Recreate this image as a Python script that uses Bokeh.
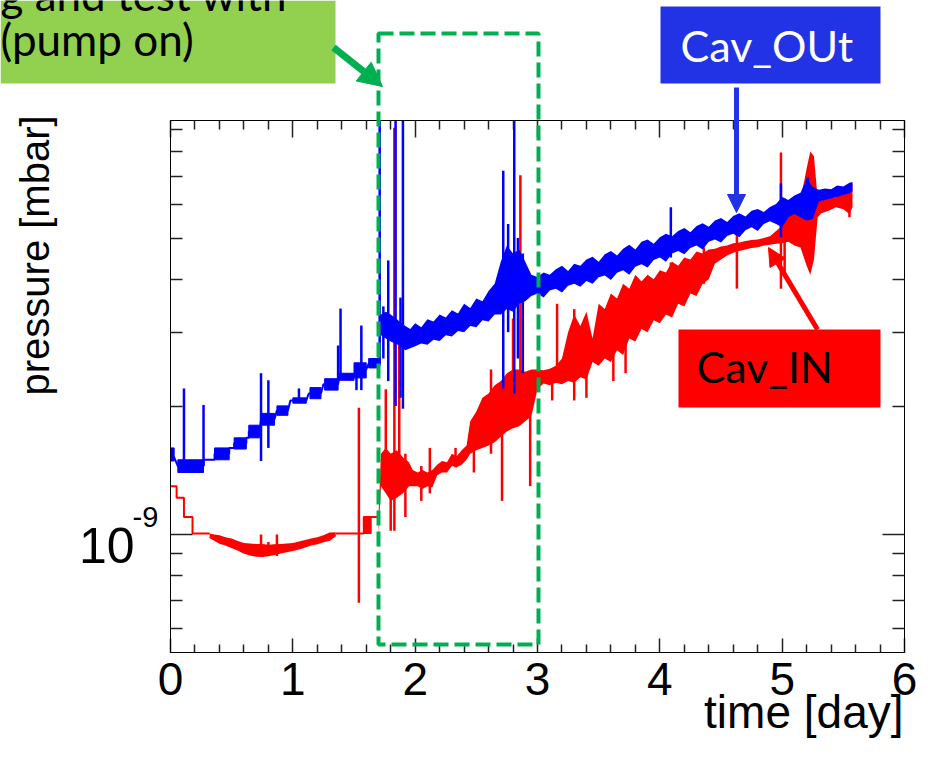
import math
from bokeh.plotting import figure
from bokeh.models import (Range1d, LogAxis, LinearAxis, FixedTicker, BoxAnnotation,
                          Label, Arrow, NormalHead, CustomJSTickFormatter)
from bokeh.embed import file_html
from bokeh.resources import INLINE

# ---------------- data (pressure in units of 1e-9 mbar, time in days) ----------------
UNIT = 1e-9

x_major = [0, 1, 2, 3, 4, 5, 6]
x_minor = [0.2, 0.4, 0.6, 0.8, 1.2, 1.4, 1.6, 1.8, 2.2, 2.4, 2.6, 2.8, 3.2, 3.4, 3.6, 3.8,
           4.2, 4.4, 4.6, 4.8, 5.2, 5.4, 5.6, 5.8]
y_major = [1.0]
y_minor = [0.6, 0.7, 0.8, 0.9, 2, 3, 4, 5, 6, 7, 8, 9]

# Cav_OUt (blue): stepped blocks before the intervention
out_blk_t0 = [0.00, 0.06, 0.36, 0.52, 0.64, 0.74, 0.87, 1.00, 1.14, 1.26, 1.38, 1.50, 1.62]
out_blk_t1 = [0.03, 0.27, 0.48, 0.62, 0.73, 0.85, 0.96, 1.11, 1.23, 1.37, 1.50, 1.60, 1.70]
out_blk_lo = [1.49, 1.40, 1.50, 1.59, 1.69, 1.81, 1.91, 2.04, 2.09, 2.19, 2.31, 2.34, 2.47]
out_blk_hi = [1.60, 1.50, 1.60, 1.69, 1.81, 1.93, 2.01, 2.10, 2.22, 2.33, 2.40, 2.54, 2.60]
out_line_t = [0.00, 0.03, 0.06, 0.27, 0.27, 0.36, 0.36, 0.48, 0.48, 0.52, 0.52, 0.62, 0.62, 0.64,
              0.64, 0.73, 0.74, 0.85, 0.87, 0.96, 0.98, 1.11, 1.13, 1.23, 1.25, 1.37, 1.38, 1.50,
              1.52, 1.60, 1.62, 1.70]
out_line_v = [1.55, 1.52, 1.45, 1.45, 1.50, 1.50, 1.55, 1.55, 1.60, 1.60, 1.64, 1.64, 1.69, 1.69,
              1.75, 1.75, 1.87, 1.87, 1.96, 1.96, 2.07, 2.07, 2.15, 2.15, 2.26, 2.26, 2.35, 2.35,
              2.45, 2.45, 2.53, 2.53]
# Cav_OUt noisy band after the intervention
out_band_t = [1.72, 1.76, 1.80, 1.86, 1.92, 1.96, 2.00, 2.05, 2.10, 2.15, 2.20, 2.25, 2.30, 2.35,
              2.40, 2.45, 2.50, 2.55, 2.60, 2.65, 2.70, 2.75, 2.80, 2.85, 2.90, 2.95,
              3.00, 3.05, 3.10, 3.15, 3.20, 3.25, 3.30, 3.35, 3.40, 3.45, 3.50, 3.55, 3.60, 3.65,
              3.70, 3.75, 3.80, 3.85, 3.90, 3.95, 4.00, 4.05, 4.10, 4.15, 4.20, 4.25, 4.30, 4.35,
              4.40, 4.45, 4.50, 4.55, 4.60, 4.65, 4.70, 4.75, 4.80, 4.85, 4.90, 4.95, 5.00, 5.05,
              5.10, 5.15, 5.20, 5.25, 5.30, 5.35, 5.40, 5.45, 5.50, 5.55, 5.575]
out_band_lo = [2.95, 2.90, 2.85, 2.80, 2.72, 2.75, 2.78, 2.82, 2.80, 2.88, 2.86, 2.95, 2.93, 3.02,
               3.00, 3.10, 3.08, 3.20, 3.18, 3.30, 3.30, 3.40, 3.35, 3.50, 3.55, 3.65,
               3.70, 3.62, 3.76, 3.80, 3.72, 3.86, 3.90, 3.84, 3.96, 3.90, 4.04, 4.08, 3.98, 4.14,
               4.20, 4.10, 4.28, 4.34, 4.26, 4.44, 4.50, 4.40, 4.60, 4.66, 4.58, 4.74, 4.80, 4.70,
               4.90, 4.96, 4.88, 5.06, 5.12, 5.02, 5.22, 5.30, 5.20, 5.40, 5.48, 5.40, 5.30, 5.60,
               5.70, 5.60, 5.50, 5.55, 6.10, 6.15, 6.20, 6.25, 6.32, 6.38, 6.45]
out_band_hi = [3.30, 3.35, 3.30, 3.20, 3.10, 3.05, 3.15, 3.08, 3.22, 3.18, 3.30, 3.25, 3.38, 3.32,
               3.50, 3.42, 3.60, 3.55, 3.75, 3.90, 4.40, 4.80, 4.60, 4.70, 4.40, 4.10,
               4.05, 4.15, 4.10, 4.22, 4.30, 4.18, 4.35, 4.30, 4.45, 4.52, 4.40, 4.58, 4.66, 4.55,
               4.72, 4.82, 4.70, 4.90, 4.96, 4.85, 5.02, 5.12, 5.05, 5.20, 5.28, 5.16, 5.34, 5.42,
               5.32, 5.50, 5.58, 5.46, 5.64, 5.72, 5.62, 5.80, 5.86, 5.76, 5.92, 6.02, 6.25, 6.15,
               6.30, 6.40, 6.90, 6.60, 6.50, 6.55, 6.52, 6.65, 6.62, 6.75, 6.78]
# Cav_OUt spikes
out_spk_t = [0.11, 0.27, 0.74, 0.80, 1.05, 1.37, 1.39, 1.52, 1.56, 1.71, 1.74, 1.78, 1.84, 1.88,
             1.90, 2.72, 2.76, 2.81, 2.84, 2.88, 4.09, 4.99, 5.21]
out_spk_lo = [1.42, 1.45, 1.49, 1.60, 2.04, 2.33, 2.33, 2.19, 2.19, 2.50, 2.60, 2.30, 2.01, 2.10,
              1.98, 2.21, 3.00, 2.15, 2.60, 2.40, 4.50, 5.02, 5.56]
out_spk_hi = [2.21, 2.02, 2.40, 2.31, 2.21, 2.79, 3.41, 2.54, 3.11, 12.0, 3.45, 4.43, 12.0, 3.62,
              12.0, 7.21, 5.40, 12.0, 5.00, 4.60, 5.91, 6.73, 6.95]

# Cav_IN (red)
in_line_t = [0.00, 0.05, 0.05, 0.11, 0.11, 0.18, 0.18, 0.32]
in_line_v = [1.30, 1.30, 1.22, 1.22, 1.10, 1.10, 1.005, 1.005]
in_band1_t = [0.32, 0.36, 0.40, 0.45, 0.50, 0.55, 0.60, 0.65, 0.70, 0.75, 0.80, 0.85, 0.90, 0.95,
              1.00, 1.05, 1.10, 1.15, 1.20, 1.25, 1.30, 1.35]
in_band1_lo = [0.985, 0.970, 0.955, 0.945, 0.932, 0.920, 0.905, 0.895, 0.890, 0.888, 0.892, 0.898,
               0.905, 0.912, 0.918, 0.925, 0.935, 0.945, 0.952, 0.962, 0.970, 0.995]
in_band1_hi = [1.005, 1.000, 0.995, 0.985, 0.978, 0.965, 0.955, 0.952, 0.950, 0.950, 0.945, 0.948,
               0.950, 0.952, 0.955, 0.962, 0.970, 0.978, 0.985, 0.995, 1.010, 1.012]
in_line2_t = [1.35, 1.58, 1.58, 1.70]
in_line2_v = [1.005, 1.005, 1.10, 1.10]
in_blk_t0 = [1.58]
in_blk_t1 = [1.64]
in_blk_lo = [1.005]
in_blk_hi = [1.10]
in_band2_t = [1.70, 1.72, 1.76, 1.80, 1.85, 1.90, 1.95, 1.98, 2.02, 2.06, 2.10, 2.14, 2.18, 2.22,
              2.26, 2.30, 2.34, 2.38, 2.42, 2.45, 2.50, 2.55, 2.60, 2.65, 2.70, 2.75, 2.80, 2.85,
              2.90, 2.95, 3.00, 3.05, 3.10, 3.15, 3.20, 3.25, 3.30, 3.35, 3.40, 3.45, 3.50, 3.55,
              3.60, 3.65, 3.70, 3.75, 3.80, 3.85, 3.90, 3.95, 4.00, 4.05, 4.10, 4.15, 4.20, 4.25,
              4.30, 4.35, 4.40, 4.45, 4.50, 4.55, 4.60, 4.65, 4.70, 4.75, 4.80, 4.85, 4.90, 4.95,
              5.00, 5.05, 5.10, 5.15, 5.20, 5.23, 5.26, 5.29, 5.32, 5.38, 5.44, 5.50, 5.55, 5.575]
in_band2_lo = [1.00, 1.30, 1.25, 1.20, 1.22, 1.25, 1.30, 1.30, 1.30, 1.28, 1.30, 1.29, 1.38, 1.40,
               1.40, 1.45, 1.44, 1.46, 1.50, 1.55, 1.58, 1.60, 1.62, 1.65, 1.70, 1.75, 1.78, 1.80,
               1.85, 1.90, 2.20, 2.27, 2.25, 2.28, 2.26, 2.30, 2.28, 2.35, 2.32, 2.55, 2.50, 2.60,
               2.55, 2.72, 2.65, 2.90, 2.85, 3.05, 3.00, 3.20, 3.15, 3.30, 3.25, 3.50, 3.45, 3.70,
               3.65, 3.90, 4.00, 4.35, 4.45, 4.55, 4.62, 4.66, 4.70, 4.74, 4.76, 4.80, 4.82, 4.85,
               4.86, 4.90, 4.80, 4.75, 4.30, 4.10, 4.45, 5.60, 5.72, 5.80, 5.91, 5.85, 5.70, 5.91]
in_band2_hi = [1.10, 1.55, 1.60, 1.55, 1.58, 1.52, 1.48, 1.42, 1.40, 1.42, 1.40, 1.42, 1.46, 1.49,
               1.48, 1.55, 1.53, 1.58, 1.62, 1.85, 1.95, 2.10, 2.15, 2.25, 2.30, 2.40, 2.45, 2.45,
               2.42, 2.45, 2.45, 2.44, 2.46, 2.50, 2.60, 3.00, 3.30, 3.10, 3.35, 2.90, 3.50, 3.40,
               3.70, 3.60, 3.90, 3.80, 4.10, 3.95, 4.10, 4.00, 4.20, 4.15, 4.40, 4.30, 4.50, 4.45,
               4.65, 4.60, 4.70, 4.72, 4.78, 4.80, 4.86, 4.88, 4.92, 4.95, 4.96, 5.00, 5.05, 5.20,
               5.35, 5.70, 5.90, 6.15, 7.30, 8.00, 7.80, 6.20, 6.13, 6.20, 6.24, 6.40, 6.55, 6.73]
in_spk_t = [0.74, 0.80, 0.87, 1.54, 1.76, 1.80, 1.83, 1.87, 1.92, 2.05, 2.12, 2.33, 2.48, 2.62,
            2.71, 2.80, 2.86, 2.94, 3.12, 3.16, 3.30, 3.40, 3.62, 3.72, 4.09, 4.36, 4.63, 4.99,
            5.02, 5.55]
in_spk_lo = [0.89, 0.90, 0.89, 0.69, 1.30, 1.02, 1.02, 1.25, 1.10, 1.20, 1.25, 1.44, 1.40, 1.55,
             1.20, 1.80, 2.00, 1.30, 2.07, 2.28, 2.07, 2.10, 2.30, 2.40, 3.30, 3.90, 3.80, 3.80,
             4.10, 5.60]
in_spk_hi = [1.00, 0.96, 1.00, 1.99, 2.20, 1.55, 9.10, 2.90, 1.55, 1.45, 1.60, 1.60, 1.60, 2.45,
             1.75, 3.23, 7.03, 1.90, 2.45, 3.50, 3.40, 3.00, 3.20, 3.60, 4.38, 4.76, 5.16, 7.96,
             6.20, 6.20]

# ---------------- layout ----------------
W, H = 928, 768
FL, FR, FT, FB = 170, 904, 120, 652
X0, X1 = 0.0, 6.0
Y_LO, Y_HI = 5.267e-10, 9.47e-9
BLUE, RED, GREEN, LGREEN, BOXBLUE = "#0000ff", "#ff0000", "#00b050", "#92d050", "#2233e6"
TEXT_SHIFT = 17  # renderer draws label baselines this many px below the anchor


def sc(arr):
    return [v * UNIT for v in arr]


p = figure(width=W, height=H, x_range=Range1d(X0, X1), y_range=Range1d(Y_LO, Y_HI),
           y_axis_type="log", output_backend="svg", toolbar_location=None,
           min_border_left=FL, min_border_right=W - FR, min_border_top=FT,
           min_border_bottom=H - FB)
p.grid.visible = False
p.outline_line_color = "black"
p.background_fill_color = "white"
p.border_fill_color = "white"

xt = FixedTicker(ticks=x_major, minor_ticks=x_minor)
yt = FixedTicker(ticks=[v * UNIT for v in y_major], minor_ticks=[v * UNIT for v in y_minor])
blank = CustomJSTickFormatter(code="return ''")

xa = p.xaxis[0]
xa.ticker = xt
xa.major_label_text_font = "Liberation Sans"
xa.major_label_text_font_size = "46px"
xa.major_label_text_color = "black"
xa.major_label_standoff = 10
xa.major_tick_in, xa.major_tick_out = 14, 0
xa.minor_tick_in, xa.minor_tick_out = 8, 0

ya = p.yaxis[0]
ya.ticker = yt
ya.formatter = blank
ya.major_tick_in, ya.major_tick_out = 22, 0
ya.minor_tick_in, ya.minor_tick_out = 12, 0

top = LinearAxis(ticker=xt, formatter=blank, major_tick_in=17, major_tick_out=0,
                 minor_tick_in=9, minor_tick_out=0, major_label_standoff=0)
right = LogAxis(ticker=yt, formatter=blank, major_tick_in=22, major_tick_out=0,
                minor_tick_in=12, minor_tick_out=0, major_label_standoff=0)
p.add_layout(top, "above")
p.add_layout(right, "right")
for a in [xa, ya, top, right]:
    a.axis_line_color = "black"
    a.major_tick_line_color = "#222222"
    a.minor_tick_line_color = "#222222"
    a.major_tick_line_width = 1.5
    a.minor_tick_line_width = 1.5

# ---------------- Cav_IN (red) ----------------
p.line(in_line_t, sc(in_line_v), line_color=RED, line_width=2)
p.varea(x=in_band1_t, y1=sc(in_band1_lo), y2=sc(in_band1_hi), fill_color=RED)
p.line(in_band1_t, sc(in_band1_lo), line_color=RED, line_width=1.5)
p.line(in_line2_t, sc(in_line2_v), line_color=RED, line_width=2)
p.quad(left=in_blk_t0, right=in_blk_t1, bottom=sc(in_blk_lo), top=sc(in_blk_hi),
       fill_color=RED, line_color=RED)
p.varea(x=in_band2_t, y1=sc(in_band2_lo), y2=sc(in_band2_hi), fill_color=RED)
p.segment(x0=in_spk_t, y0=sc(in_spk_lo), x1=in_spk_t, y1=sc(in_spk_hi), line_color=RED,
          line_width=2.5)

# ---------------- Cav_OUt (blue) ----------------
p.line(out_line_t, sc(out_line_v), line_color=BLUE, line_width=2)
p.quad(left=out_blk_t0, right=out_blk_t1, bottom=sc(out_blk_lo), top=sc(out_blk_hi),
       fill_color=BLUE, line_color=BLUE)
p.varea(x=out_band_t, y1=sc(out_band_lo), y2=sc(out_band_hi), fill_color=BLUE)
p.segment(x0=out_spk_t, y0=sc(out_spk_lo), x1=out_spk_t, y1=sc(out_spk_hi), line_color=BLUE,
          line_width=2.5)

# ---------------- transparent overlay (page pixels) for titles and call-outs ----------------
ov = figure(width=W, height=H, x_range=Range1d(0, W), y_range=Range1d(H, 0),
            output_backend="svg", toolbar_location=None, x_axis_location=None,
            y_axis_location=None, min_border=0, background_fill_color=None,
            border_fill_color=None, outline_line_color=None,
            styles={"margin-top": f"-{H}px", "position": "relative", "z-index": "2"})
ov.grid.visible = False


def lab(text, px, py, size, color="black", font="Liberation Sans", align="left", angle=0.0):
    if angle:
        px -= TEXT_SHIFT
    else:
        py -= TEXT_SHIFT
    ov.add_layout(Label(x=px, y=py, text=text, text_font=font, text_font_size=size,
                        text_align=align, text_baseline="alphabetic", angle=angle,
                        text_color=color, level="overlay"))


def box(l, r, t, b, color):
    ov.add_layout(BoxAnnotation(left=l, right=r, top=t, bottom=b, fill_color=color,
                                fill_alpha=1, line_color=None, level="annotation"))


def arrow(x0, y0, x1, y1, color, width, head):
    ov.add_layout(Arrow(end=NormalHead(size=head, fill_color=color, line_color=color),
                        x_start=x0, y_start=y0, x_end=x1, y_end=y1,
                        line_color=color, line_width=width, level="annotation"))


# axis titles and the y tick label
lab("time [day]", 903, 728, "46px", align="right")
lab("pressure [mbar]", 51, 395, "40px", angle=math.pi / 2)
lab("10", 134, 562, "50px", align="right")
lab("-9", 132, 533, "29px")

# call-outs
box(0, 335, 0, 83, LGREEN)
lab("g and test with", 0, 10, "44px", font="Lato")
lab("(pump on)", 0, 55, "44px", font="Lato")
box(660, 880, 6, 83, BOXBLUE)
lab("Cav_OUt", 680, 62, "43px", color="white", font="Lato")
box(678, 880, 329, 407, RED)
lab("Cav_IN", 696, 383, "43px", font="Lato")
ov.add_layout(BoxAnnotation(left=378, right=538, top=33, bottom=644, fill_alpha=0,
                            line_color=GREEN, line_alpha=1, line_width=4, line_dash="15 6",
                            level="overlay"))
arrow(736, 87, 736, 212, BOXBLUE, 5, 18)
arrow(817, 329, 768, 247, RED, 5, 18)
arrow(333, 47, 382, 86, GREEN, 7, 24)

open("out.html", "w").write(file_html([p, ov], INLINE))
